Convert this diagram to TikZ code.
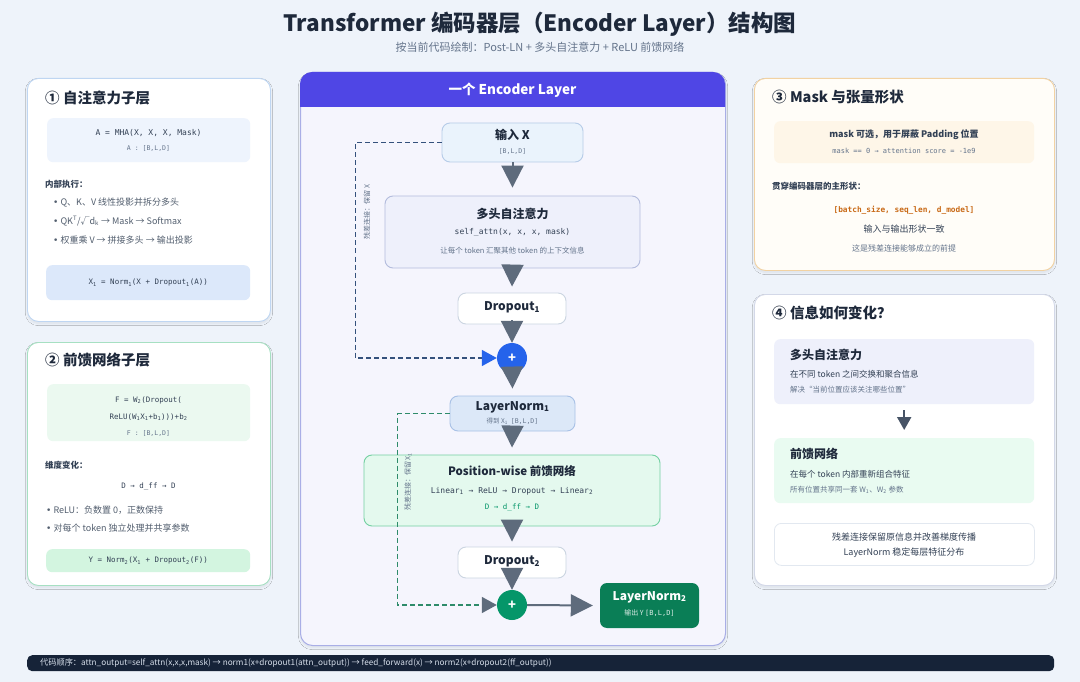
\documentclass[tikz,border=0pt]{standalone}
\usepackage{fontspec}
\setmainfont{Noto Sans CJK SC}
\setmonofont{DejaVu Sans Mono}
\newfontfamily\latf{DejaVu Sans}
\usetikzlibrary{arrows.meta,shadows.blur,calc}
\definecolor{bgc}{HTML}{EEF3FA}
\definecolor{titc}{HTML}{1E293B}
\definecolor{subc}{HTML}{64748B}
\definecolor{bodyc}{HTML}{334155}
\definecolor{p1b}{HTML}{BFD6F2}
\definecolor{p2b}{HTML}{A6E0C2}
\definecolor{p3b}{HTML}{F2D2A2}
\definecolor{p4b}{HTML}{D3D8E8}
\definecolor{c1a}{HTML}{EEF4FD}
\definecolor{c1b}{HTML}{DCE8FA}
\definecolor{c2a}{HTML}{EBF9F0}
\definecolor{c2b}{HTML}{D3F5E0}
\definecolor{c3a}{HTML}{FEF6E8}
\definecolor{p3fill}{HTML}{FFFDF8}
\definecolor{indig}{HTML}{4F46E5}
\definecolor{cbody}{HTML}{F5F5FD}
\definecolor{cbord}{HTML}{A9AEE6}
\definecolor{inpf}{HTML}{EAF3FC}
\definecolor{inpd}{HTML}{B6CCE8}
\definecolor{mhaf}{HTML}{EEF0FB}
\definecolor{mhad}{HTML}{B3BCDD}
\definecolor{dropd}{HTML}{CBD5E1}
\definecolor{ln1f}{HTML}{DCE8F8}
\definecolor{ln1d}{HTML}{A8C1E6}
\definecolor{ffnf}{HTML}{E4F9EE}
\definecolor{ffnd}{HTML}{74D0A2}
\definecolor{grn}{HTML}{059669}
\definecolor{ln2f}{HTML}{0A7E56}
\definecolor{bluec}{HTML}{2563EB}
\definecolor{arrg}{HTML}{5E6B7C}
\definecolor{res1c}{HTML}{34517C}
\definecolor{res2c}{HTML}{2E8B6A}
\definecolor{orng}{HTML}{C96A17}
\definecolor{b4a}{HTML}{EEF0FB}
\definecolor{b4b}{HTML}{E9FBF1}
\definecolor{b4c}{HTML}{E2E8F0}
\definecolor{barc}{HTML}{162338}
\definecolor{bartx}{HTML}{D6DEEA}
\newcommand{\sbs}[1]{\textsubscript{#1}}
\newcommand{\fs}[1]{\fontsize{#1}{#1}\selectfont}
\newcommand{\bulx}{{\latf •}\ }
\begin{document}
\begin{tikzpicture}[x=1pt,y=-1pt,
  panel/.style={draw=#1, line width=0.9pt, fill=white, rounded corners=11pt,
    blur shadow={shadow blur steps=6, shadow xshift=0pt, shadow yshift=-2pt, shadow opacity=8}},
  ibox/.style={fill=#1, draw=none, rounded corners=6pt, inner sep=0pt},
  ptitle/.style={anchor=west, font=\fs{14.5}\bfseries, text=titc, inner sep=0pt},
  code/.style={font=\ttfamily\fs{8}, text=bodyc, inner sep=0pt},
  tiny/.style={font=\ttfamily\fs{6.5}, text=subc, inner sep=0pt},
  lbl/.style={anchor=west, font=\fs{8.5}\bfseries, text=bodyc, inner sep=0pt},
  bul/.style={anchor=west, font=\fs{9}, text=bodyc!85, inner sep=0pt},
  btitle/.style={font=\fs{12}\bfseries, text=titc, inner sep=0pt},
  small/.style={font=\fs{7.5}, text=subc, inner sep=0pt},
  fnode/.style={draw=#1, line width=0.9pt, rounded corners=8pt, inner sep=0pt},
  flowarr/.style={draw=arrg, line width=2pt, -{Triangle[length=22pt,width=22pt]}},
  res1/.style={draw=res1c, line width=1.6pt, dash pattern=on 5pt off 3pt,
    -{Triangle[length=15pt,width=16pt,fill=bluec,color=bluec]}},
  res2/.style={draw=res2c, line width=1.6pt, dash pattern=on 5pt off 3pt,
    -{Triangle[length=15pt,width=16pt,fill=arrg,color=arrg]}},
  rlab/.style={rotate=90, font=\fs{7}, text=subc, inner sep=0pt}
]
\useasboundingbox (0,0) rectangle (1080,682);
\fill[bgc] (0,0) rectangle (1080,682);

% title
\node[font=\fs{22.5}\bfseries, text=titc, inner sep=0pt] (title) at (540,24) {Transformer 编码器层（Encoder Layer）结构图};
\node[font=\fs{11}, text=subc, inner sep=0pt] (subt) at (540,47) {按当前代码绘制：Post-LN + 多头自注意力 + ReLU 前馈网络};

% ---------- panel 1
\node[panel=p1b, minimum width=243, minimum height=243, anchor=north west] (pan1) at (27,78) {};
\node[ptitle] (t1) at (45,98) {① 自注意力子层};
\node[ibox=c1a, minimum width=203, minimum height=44, anchor=north west] (c1) at (47,118) {};
\node[code] (c1l1) at (148.5,133) {A = MHA(X, X, X, Mask)};
\node[tiny] (c1l2) at (148.5,148) {A : [B,L,D]};
\node[lbl] (ex1) at (45,184) {内部执行：};
\node[bul] (b11) at (53,203) {\bulx Q、K、V 线性投影并拆分多头};
\node[bul] (b12) at (53,221) {\bulx QK\textsuperscript{T}/√d\sbs{k} → Mask → Softmax};
\node[bul] (b13) at (53,240) {\bulx 权重乘 V → 拼接多头 → 输出投影};
\node[ibox=c1b, minimum width=204, minimum height=35, anchor=north west] (f1) at (46,265) {};
\node[code, font=\ttfamily\fs{7.5}] (f1t) at (f1) {X\sbs{1} = Norm\sbs{1}(X + Dropout\sbs{1}(A))};

% ---------- panel 2
\node[panel=p2b, minimum width=243, minimum height=243, anchor=north west] (pan2) at (27,342) {};
\node[ptitle] (t2) at (45,360) {② 前馈网络子层};
\node[ibox=c2a, minimum width=203, minimum height=57, anchor=north west] (c2) at (47,384) {};
\node[code, font=\ttfamily\fs{7.5}] (c2l1) at (148.5,400) {F = W\sbs{2}(Dropout(};
\node[code, font=\ttfamily\fs{7.5}] (c2l2) at (148.5,417) {ReLU(W\sbs{1}X\sbs{1}+b\sbs{1})))+b\sbs{2}};
\node[tiny] (c2l3) at (148.5,433) {F : [B,L,D]};
\node[lbl] (ex2) at (45,465) {维度变化：};
\node[code, font=\ttfamily\fs{7.5}] (dim2) at (148.5,487) {D → d\_ff → D};
\node[bul] (b21) at (46,510) {\bulx ReLU：负数置 0，正数保持};
\node[bul] (b22) at (46,528) {\bulx 对每个 token 独立处理并共享参数};
\node[ibox=c2b, minimum width=204, minimum height=23, anchor=north west] (f2) at (46,549) {};
\node[code, font=\ttfamily\fs{7.5}] (f2t) at (f2) {Y = Norm\sbs{2}(X\sbs{1} + Dropout\sbs{2}(F))};

% ---------- center panel
\node[draw=cbord, line width=1pt, fill=cbody, rounded corners=12pt, minimum width=425, minimum height=573, anchor=north west,
  blur shadow={shadow blur steps=6, shadow xshift=0pt, shadow yshift=-2pt, shadow opacity=8}] (cpan) at (300,72) {};
\fill[indig] (300,107) {[rounded corners=12pt] -- (300,72) -- (725,72)} -- (725,107) -- cycle;
\node[font=\fs{13.5}\bfseries, text=white, inner sep=0pt] (chead) at (512.5,90) {一个 Encoder Layer};

\node[fnode=inpd, fill=inpf, minimum width=141, minimum height=39] (inp) at (512.5,142.5) {};
\node[btitle] (inpt) at (512.5,135) {输入 X};
\node[tiny, text=subc] (inps) at (512.5,151) {[B,L,D]};

\node[fnode=mhad, fill=mhaf, minimum width=255, minimum height=72] (mha) at (512.5,232) {};
\node[btitle] (mhat) at (512.5,214) {多头自注意力};
\node[code] (mhac) at (512.5,232) {self\_attn(x, x, x, mask)};
\node[small] (mhas) at (512.5,251) {让每个 token 汇聚其他 token 的上下文信息};

\node[fnode=dropd, fill=white, minimum width=108, minimum height=31] (d1) at (512,308.5) {};
\node[btitle] (d1t) at (512,307.5) {Dropout\sbs{1}};

\node[circle, fill=bluec, minimum size=30, inner sep=0pt, text=white, font=\fs{13}\bfseries] (p1) at (512,358) {+};

\node[fnode=ln1d, fill=ln1f, minimum width=125, minimum height=35] (ln1) at (512.5,413.5) {};
\node[btitle] (ln1t) at (512.5,407) {LayerNorm\sbs{1}};
\node[font=\fs{6.5}, text=subc, inner sep=0pt] (ln1s) at (512.5,421.5) {得到 X\sbs{1}\ \ \texttt{[B,L,D]}};

\node[fnode=ffnd, fill=ffnf, minimum width=296, minimum height=71] (ffn) at (512,490.5) {};
\node[btitle, font=\fs{11.5}\bfseries] (ffnt) at (512,471) {Position-wise 前馈网络};
\node[code] (ffnc) at (512,491) {Linear\sbs{1} → ReLU → Dropout → Linear\sbs{2}};
\node[code, text=grn, font=\ttfamily\fs{7.5}] (ffnd2) at (512,508) {D → d\_ff → D};

\node[fnode=dropd, fill=white, minimum width=108, minimum height=31] (d2) at (512,562.5) {};
\node[btitle] (d2t) at (512,561.5) {Dropout\sbs{2}};

\node[circle, fill=grn, minimum size=30, inner sep=0pt, text=white, font=\fs{13}\bfseries] (p2) at (512,605) {+};

\node[fill=ln2f, rounded corners=7pt, minimum width=99, minimum height=45, inner sep=0pt] (ln2) at (649.5,605.5) {};
\node[btitle, text=white] (ln2t) at (649.5,597) {LayerNorm\sbs{2}};
\node[font=\fs{7}, text=white!85!ln2f, inner sep=0pt] (ln2s) at (649.5,613) {输出 Y \texttt{[B,L,D]}};

% flow arrows
\draw[flowarr] (inp.south) -- ([yshift=8pt]mha.north);
\draw[flowarr] ([yshift=3pt]mha.south) -- ([yshift=6pt]d1.north);
\draw[flowarr] ([yshift=4pt]d1.south) -- (p1.north);
\draw[flowarr] ([yshift=6pt]p1.south) -- ([yshift=7pt]ln1.north);
\draw[flowarr] ([yshift=4pt]ln1.south) -- ([yshift=7pt]ffn.north);
\draw[flowarr] ([yshift=6pt]ffn.south) -- ([yshift=5pt]d2.north);
\draw[flowarr] ([yshift=8pt]d2.south) -- (p2.north);
\draw[flowarr] (p2.east) -- ([xshift=-7pt]ln2.west);

% residuals
\draw[res1] (inp.west) -- ++(-86,0) |- (p1.west);
\node[rlab] (r1l) at (367,212) {残差连接：保留 X};
\draw[res2] (ln1.west) -- ++(-52,0) |- (p2.west);
\node[rlab] (r2l) at (408,482) {残差连接：保留 X\sbs{1}};

% ---------- panel 3
\node[panel=p3b, fill=p3fill, minimum width=300, minimum height=192, anchor=north west] (pan3) at (754,78) {};
\node[ptitle] (t3) at (772,97) {③ Mask 与张量形状};
\node[ibox=c3a, minimum width=260, minimum height=42, anchor=north west] (c3) at (774,121) {};
\node[font=\fs{9}\bfseries, text=bodyc, inner sep=0pt] (c3l1) at (904,135) {mask 可选，用于屏蔽 Padding 位置};
\node[tiny, font=\ttfamily\fs{7}] (c3l2) at (904,151) {mask == 0 → attention score = -1e9};
\node[lbl] (ex3) at (772,186) {贯穿编码器层的主形状：};
\node[code, text=orng, font=\ttfamily\fs{7.8}\bfseries] (shp) at (904,210) {[batch\_size, seq\_len, d\_model]};
\node[font=\fs{9}, text=bodyc, inner sep=0pt] (io3) at (904,229) {输入与输出形状一致};
\node[font=\fs{8}, text=subc, inner sep=0pt] (pr3) at (904,248) {这是残差连接能够成立的前提};

% ---------- panel 4
\node[panel=p4b, minimum width=300, minimum height=291, anchor=north west] (pan4) at (754,294) {};
\node[ptitle] (t4) at (772,313) {④ 信息如何变化？};
\node[ibox=b4a, minimum width=260, minimum height=65, anchor=north west] (q1) at (774,339) {};
\node[btitle, anchor=west] (q1t) at (790,355) {多头自注意力};
\node[anchor=west, font=\fs{8.5}, text=bodyc, inner sep=0pt] (q1a) at (790,374) {在不同 token 之间交换和聚合信息};
\node[anchor=west, small] (q1b) at (790,390) {解决“当前位置应该关注哪些位置”};
\node[ibox=b4b, minimum width=260, minimum height=65, anchor=north west] (q2) at (774,438) {};
\node[btitle, anchor=west] (q2t) at (790,454) {前馈网络};
\node[anchor=west, font=\fs{8.5}, text=bodyc, inner sep=0pt] (q2a) at (790,474) {在每个 token 内部重新组合特征};
\node[anchor=west, small] (q2b) at (790,490) {所有位置共享同一套 W\sbs{1}、W\sbs{2} 参数};
\draw[draw=bodyc!90, line width=2pt, -{Triangle[length=13pt,width=14pt]}] ([yshift=-6pt]q1.south) -- ([yshift=8pt]q2.north);
\node[draw=b4c, line width=0.8pt, fill=white, rounded corners=7pt, minimum width=260, minimum height=42, anchor=north west] (q3) at (774,523) {};
\node[font=\fs{9}, text=bodyc, inner sep=0pt] (q3a) at (904,537) {残差连接保留原信息并改善梯度传播};
\node[font=\fs{9}, text=bodyc, inner sep=0pt] (q3b) at (904,553) {LayerNorm 稳定每层特征分布};

% ---------- bottom bar
\node[fill=barc, rounded corners=5pt, minimum width=1027, minimum height=16, anchor=north west, inner sep=0pt] (bar) at (27,655) {};
\node[anchor=west, font=\fs{8.2}, text=bartx, inner sep=0pt] (bart) at (40,663) {代码顺序：attn\_output=self\_attn(x,x,x,mask) → norm1(x+dropout1(attn\_output)) → feed\_forward(x) → norm2(x+dropout2(ff\_output))};
\end{tikzpicture}
\end{document}
